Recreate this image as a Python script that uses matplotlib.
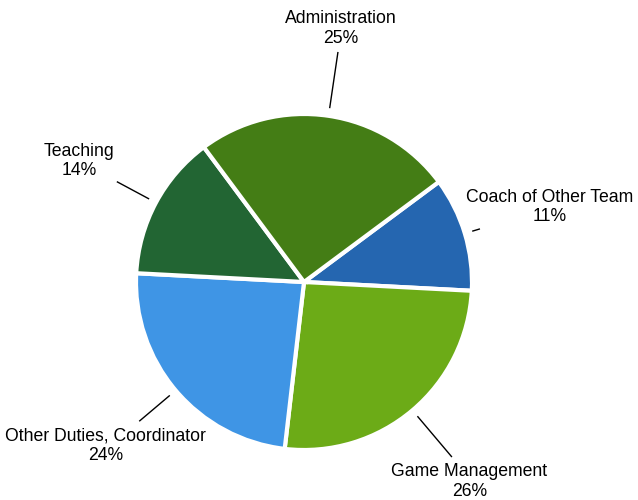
import numpy as np
import matplotlib.pyplot as plt

plt.rcParams['font.family'] = ['Liberation Sans', 'DejaVu Sans']

labels = ['Coach of Other Team', 'Game Management', 'Other Duties, Coordinator',
          'Teaching', 'Administration']
shares = [11, 26, 24, 14, 25]
colors = ['#2566b0', '#6cab17', '#3f95e5', '#226533', '#447d15']

# leader line start/end, as multiples of the pie radius
line_in = [1.05, 1.05, 1.05, 1.05, 1.05]
line_out = [1.09, 1.36, 1.28, 1.26, 1.38]
# label centre relative to the outer end of the leader line (pixels)
text_off = [(70, 22), (18, -25), (-34, -25), (-38, 21), (3, 24)]

fig = plt.figure(figsize=(6.38, 5), dpi=100)
ax = fig.add_axes([0, 0, 1, 1])

cx, cy, r = 304, 218, 168
wedges, _ = ax.pie(shares, colors=colors, startangle=36.6, counterclock=False,
                   center=(cx, cy), radius=r, frame=True,
                   wedgeprops=dict(edgecolor='white', linewidth=3))
ax.set_xlim(0, 638)
ax.set_ylim(0, 500)
ax.set_aspect('equal')
ax.axis('off')

for i, w in enumerate(wedges):
    mid = np.deg2rad((w.theta1 + w.theta2) / 2)
    ux, uy = np.cos(mid), np.sin(mid)
    x0, y0 = cx + ux * r * line_in[i], cy + uy * r * line_in[i]
    x1, y1 = cx + ux * r * line_out[i], cy + uy * r * line_out[i]
    ax.plot([x0, x1], [y0, y1], color='black', lw=1)
    ax.text(x1 + text_off[i][0], y1 + text_off[i][1], f'{labels[i]}\n{shares[i]}%',
            ha='center', va='center', fontsize=12.7, linespacing=1.2, color='black')

fig.savefig('out.png', dpi=100)
